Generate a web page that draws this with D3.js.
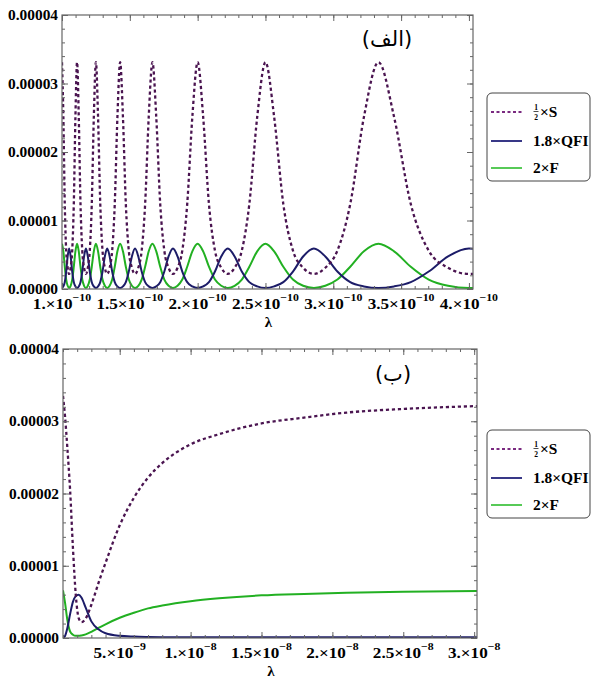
<!DOCTYPE html>
<html>
<head>
<meta charset="utf-8">
<script src="https://cdn.jsdelivr.net/npm/d3@7/dist/d3.min.js"></script>
<style>
  body { margin: 0; background: #fff; }
  svg { display: block; }
  .lbl { font-family: 'Liberation Serif', 'Times New Roman', serif; font-weight: bold; fill: #000; }
</style>
</head>
<body>
<svg id="chart" width="591" height="681"></svg>
<script>
// panel (الف): λ in units of 1e-10, values in units of 1e-6
const lambdaA = [
  1.0000, 1.0101, 1.0204, 1.0309, 1.0417, 1.0526, 1.0638, 1.0753, 1.0870, 1.0989,
  1.1111, 1.1236, 1.1364, 1.1494, 1.1628, 1.1765, 1.1905, 1.2048, 1.2195, 1.2346,
  1.2500, 1.2658, 1.2821, 1.2987, 1.3158, 1.3333, 1.3514, 1.3699, 1.3889, 1.4085,
  1.4286, 1.4493, 1.4706, 1.4925, 1.5152, 1.5385, 1.5625, 1.5873, 1.6129, 1.6393,
  1.6667, 1.6949, 1.7241, 1.7544, 1.7857, 1.8182, 1.8519, 1.8868, 1.9231, 1.9608,
  2.0000, 2.0408, 2.0833, 2.1277, 2.1739, 2.2222, 2.2727, 2.3256, 2.3810, 2.4390,
  2.5000, 2.5641, 2.6316, 2.7027, 2.7778, 2.8571, 2.9412, 3.0303, 3.1250, 3.2258,
  3.3333, 3.4483, 3.5714, 3.7037, 3.8462, 4.0000, 4.0300
];
const halfSA = [
  33.1, 25.1, 12.4, 5.6, 3.1, 2.2, 3.1, 5.6, 12.4, 25.1,
  33.1, 25.1, 12.4, 5.6, 3.1, 2.2, 3.1, 5.6, 12.4, 25.1,
  33.1, 25.1, 12.4, 5.6, 3.1, 2.2, 3.1, 5.6, 12.4, 25.1,
  33.1, 25.1, 12.4, 5.6, 3.1, 2.2, 3.1, 5.6, 12.4, 25.1,
  33.1, 25.1, 12.4, 5.6, 3.1, 2.2, 3.1, 5.6, 12.4, 25.1,
  33.1, 25.1, 12.4, 5.6, 3.1, 2.2, 3.1, 5.6, 12.4, 25.1,
  33.1, 25.1, 12.4, 5.6, 3.1, 2.2, 3.1, 5.6, 12.4, 25.1,
  33.1, 25.1, 12.4, 5.6, 3.1, 2.2, 2.2
];
const qfiA = [
  0.15, 0.38, 1.0, 2.55, 4.75, 5.9, 4.75, 2.55, 1.0, 0.38,
  0.15, 0.38, 1.0, 2.55, 4.75, 5.9, 4.75, 2.55, 1.0, 0.38,
  0.15, 0.38, 1.0, 2.55, 4.75, 5.9, 4.75, 2.55, 1.0, 0.38,
  0.15, 0.38, 1.0, 2.55, 4.75, 5.9, 4.75, 2.55, 1.0, 0.38,
  0.15, 0.38, 1.0, 2.55, 4.75, 5.9, 4.75, 2.55, 1.0, 0.38,
  0.15, 0.38, 1.0, 2.55, 4.75, 5.9, 4.75, 2.55, 1.0, 0.38,
  0.15, 0.38, 1.0, 2.55, 4.75, 5.9, 4.75, 2.55, 1.0, 0.38,
  0.15, 0.38, 1.0, 2.55, 4.75, 5.9, 5.88
];
const fA = [
  6.6, 5.5, 3.25, 1.38, 0.47, 0.15, 0.47, 1.38, 3.25, 5.5,
  6.6, 5.5, 3.25, 1.38, 0.47, 0.15, 0.47, 1.38, 3.25, 5.5,
  6.6, 5.5, 3.25, 1.38, 0.47, 0.15, 0.47, 1.38, 3.25, 5.5,
  6.6, 5.5, 3.25, 1.38, 0.47, 0.15, 0.47, 1.38, 3.25, 5.5,
  6.6, 5.5, 3.25, 1.38, 0.47, 0.15, 0.47, 1.38, 3.25, 5.5,
  6.6, 5.5, 3.25, 1.38, 0.47, 0.15, 0.47, 1.38, 3.25, 5.5,
  6.6, 5.5, 3.25, 1.38, 0.47, 0.15, 0.47, 1.38, 3.25, 5.5,
  6.6, 5.5, 3.25, 1.38, 0.47, 0.15, 0.16
];

// panel (ب): λ in units of 1e-9, values in units of 1e-6
const lambdaB = [1.0, 1.15, 1.3, 1.5, 1.7, 1.9, 2.1, 2.3, 2.6, 3.0, 3.5, 4.0, 5.0, 6.0, 7.0, 8.0, 10, 12, 15, 18, 21, 25, 30.2];
const halfSB  = [33.5, 30.5, 26.5, 20.5, 12.5, 6.0, 2.8, 2.2, 2.7, 4.6, 7.6, 10.4, 15.6, 19.4, 22.2, 24.2, 26.8, 28.2, 29.7, 30.5, 31.2, 31.7, 32.1];
const qfiB    = [0.0, 0.3, 1.3, 3.3, 5.0, 5.8, 6.0, 5.6, 4.2, 2.3, 1.2, 0.65, 0.3, 0.2, 0.15, 0.12, 0.1, 0.1, 0.1, 0.1, 0.1, 0.1, 0.1];
const fB      = [6.6, 4.8, 2.6, 0.9, 0.45, 0.3, 0.3, 0.35, 0.5, 0.85, 1.4, 1.9, 2.8, 3.5, 4.1, 4.5, 5.1, 5.5, 5.9, 6.1, 6.25, 6.4, 6.5];

const yTickValues = [0, 10, 20, 30, 40];
const yTickLabels = ['0.00000', '0.00001', '0.00002', '0.00003', '0.00004'];
const xTickValuesA = [1, 1.5, 2, 2.5, 3, 3.5, 4];
const xTickLabelsA = ['1.', '1.5', '2.', '2.5', '3.', '3.5', '4.'];
const xTickExpA = ['−10', '−10', '−10', '−10', '−10', '−10', '−10'];
const xTickValuesB = [5, 10, 15, 20, 25, 30];
const xTickLabelsB = ['5.', '1.', '1.5', '2.', '2.5', '3.'];
const xTickExpB = ['−9', '−8', '−8', '−8', '−8', '−8'];
const legendLabels = ['×S', '1.8×QFI', '2×F'];
const panelTitles = ['(الف)', '(ب)'];

const colS = '#4a1450', colQ = '#1c1c68', colF = '#22b022';
const serif = "'Liberation Serif', 'Times New Roman', serif";

const svg = d3.select('#chart');

// stretch serif text a bit wider, like the original
function widen(sel, k) {
  sel.each(function () {
    const L = this.getComputedTextLength();
    this.setAttribute('textLength', L * k);
    this.setAttribute('lengthAdjust', 'spacingAndGlyphs');
  });
}

const panels = [
  { lam: lambdaA, s: halfSA, q: qfiA, f: fA, xDomain: [1, 4.03], left: 62, right: 473, top: 15, bottom: 289,
    xTicks: xTickValuesA, xLabels: xTickLabelsA, xExp: xTickExpA, xMinor: d3.range(1, 4.03, 0.1),
    title: panelTitles[0], titleX: 387, titleY: 46, legendTop: 93, lambdaColor: '#999' },
  { lam: lambdaB, s: halfSB, q: qfiB, f: fB, xDomain: [1, 30.2], left: 63, right: 477, top: 349, bottom: 638,
    xTicks: xTickValuesB, xLabels: xTickLabelsB, xExp: xTickExpB, xMinor: d3.range(1, 30.5, 1),
    title: panelTitles[1], titleX: 393, titleY: 381, legendTop: 430, lambdaColor: '#000' }
];

panels.forEach((p, pi) => {
  const g = svg.append('g');
  const x = d3.scaleLinear().domain(p.xDomain).range([p.left, p.right]);
  const y = d3.scaleLinear().domain([0, 40]).range([p.bottom, p.top]);

  const clipId = 'clip' + pi;
  svg.append('clipPath').attr('id', clipId)
    .append('rect')
    .attr('x', p.left).attr('y', p.top)
    .attr('width', p.right - p.left).attr('height', p.bottom - p.top);

  const line = d3.line()
    .x(d => x(d[0]))
    .y(d => y(d[1]))
    .curve(d3.curveMonotoneX);

  const curves = g.append('g').attr('clip-path', `url(#${clipId})`);
  curves.append('path')
    .attr('d', line(p.lam.map((l, i) => [l, p.f[i]])))
    .attr('fill', 'none').attr('stroke', colF).attr('stroke-width', 2);
  curves.append('path')
    .attr('d', line(p.lam.map((l, i) => [l, p.q[i]])))
    .attr('fill', 'none').attr('stroke', colQ).attr('stroke-width', 2);
  curves.append('path')
    .attr('d', line(p.lam.map((l, i) => [l, p.s[i]])))
    .attr('fill', 'none').attr('stroke', colS).attr('stroke-width', 2.3)
    .attr('stroke-dasharray', '3.2,2.8');

  // frame ticks, all four sides, pointing inward
  const tickCol = '#666';
  const addAxis = (axis, tx, ty) => {
    const a = g.append('g').attr('transform', `translate(${tx},${ty})`).call(axis);
    a.select('.domain').remove();
    a.selectAll('line').attr('stroke', tickCol);
    a.selectAll('text').remove();
  };
  const yMinor = d3.range(0, 40.1, 2);
  addAxis(d3.axisBottom(x).tickValues(p.xMinor).tickSize(-3), 0, p.bottom);
  addAxis(d3.axisBottom(x).tickValues(p.xTicks).tickSize(-6), 0, p.bottom);
  addAxis(d3.axisTop(x).tickValues(p.xMinor).tickSize(-3), 0, p.top);
  addAxis(d3.axisTop(x).tickValues(p.xTicks).tickSize(-6), 0, p.top);
  addAxis(d3.axisLeft(y).tickValues(yMinor).tickSize(-3), p.left, 0);
  addAxis(d3.axisLeft(y).tickValues(yTickValues).tickSize(-6), p.left, 0);
  addAxis(d3.axisRight(y).tickValues(yMinor).tickSize(-3), p.right, 0);
  addAxis(d3.axisRight(y).tickValues(yTickValues).tickSize(-6), p.right, 0);

  g.append('rect')
    .attr('x', p.left).attr('y', p.top)
    .attr('width', p.right - p.left).attr('height', p.bottom - p.top)
    .attr('fill', 'none').attr('stroke', '#666').attr('stroke-width', 1.2);

  // y labels
  const yl = g.selectAll('.ylab').data(yTickValues).enter().append('text')
    .attr('class', 'lbl')
    .attr('x', p.left - 4)
    .attr('y', d => y(d) + 5)
    .attr('text-anchor', 'end')
    .style('font-family', serif)
    .style('font-size', '14.5px')
    .text((d, i) => yTickLabels[i]);
  widen(yl, 1.06);

  // x labels: mantissa × 10^exp
  const xl = g.selectAll('.xlab').data(p.xTicks).enter().append('text')
    .attr('class', 'lbl')
    .attr('x', d => x(d))
    .attr('y', p.bottom + 20)
    .attr('text-anchor', 'middle')
    .style('font-family', serif)
    .style('font-size', '14.5px');
  xl.append('tspan').text((d, i) => p.xLabels[i] + '×10');
  xl.append('tspan').attr('dy', -8.5).style('font-size', '10px').text((d, i) => p.xExp[i]);
  widen(xl, 1.18);

  // λ axis label
  g.append('text').attr('class', 'lbl')
    .attr('x', (p.left + p.right) / 2 + 1)
    .attr('y', p.bottom + 38)
    .attr('text-anchor', 'middle')
    .style('font-family', serif)
    .style('font-size', '15px')
    .attr('fill', p.lambdaColor)
    .text('λ');

  // panel title
  g.append('text')
    .attr('x', p.titleX).attr('y', p.titleY)
    .attr('text-anchor', 'middle')
    .style('font-family', "'DejaVu Sans', sans-serif")
    .style('font-size', '21px')
    .attr('fill', '#000')
    .text(p.title);

  // legend
  const lg = g.append('g').attr('transform', `translate(487,${p.legendTop})`);
  lg.append('rect')
    .attr('x', 0).attr('y', 0).attr('width', 103).attr('height', 88)
    .attr('rx', 5).attr('ry', 5)
    .attr('fill', '#fff').attr('stroke', '#444').attr('stroke-width', 1);
  const rows = [19, 48, 75];
  const styles = [
    { c: '#7a2a80', dash: '3,2.5' },
    { c: '#22227a', dash: null },
    { c: '#44c444', dash: null }
  ];
  legendLabels.forEach((lab, i) => {
    lg.append('line')
      .attr('x1', 4).attr('x2', 35).attr('y1', rows[i]).attr('y2', rows[i])
      .attr('stroke', styles[i].c).attr('stroke-width', 1.8)
      .attr('stroke-dasharray', styles[i].dash);
    if (i === 0) {
      lg.append('text').attr('class', 'lbl').attr('x', 49).attr('y', rows[i] - 1.8)
        .attr('text-anchor', 'middle').style('font-family', serif).style('font-size', '7.5px').text('1');
      lg.append('line').attr('x1', 46.5).attr('x2', 51.5).attr('y1', rows[i] - 0.5).attr('y2', rows[i] - 0.5)
        .attr('stroke', '#000').attr('stroke-width', 0.7);
      lg.append('text').attr('class', 'lbl').attr('x', 49).attr('y', rows[i] + 7.5)
        .attr('text-anchor', 'middle').style('font-family', serif).style('font-size', '7.5px').text('2');
      const t = lg.append('text').attr('class', 'lbl').attr('x', 53).attr('y', rows[i] + 5)
        .style('font-family', serif).style('font-size', '14px').text(lab);
      widen(t, 1.1);
    } else {
      const t = lg.append('text').attr('class', 'lbl').attr('x', 46).attr('y', rows[i] + 5)
        .style('font-family', serif).style('font-size', '14px').text(lab);
      widen(t, 1.1);
    }
  });
});
</script>
</body>
</html>
